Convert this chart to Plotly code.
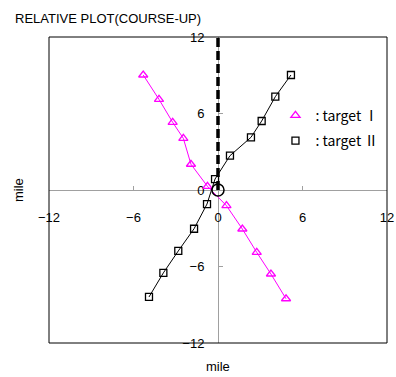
import plotly.graph_objects as go

# ---- data (mile) ----
target1_x = [-5.31, -4.19, -3.22, -2.46, -1.92, -0.75, 0.60, 1.73, 2.75, 3.76, 4.83]
target1_y = [9.02, 7.11, 5.31, 4.05, 2.02, 0.29, -1.23, -3.06, -4.89, -6.59, -8.53]
target2_x = [5.18, 4.07, 3.10, 2.34, 0.85, -0.21, -0.78, -1.70, -2.82, -3.88, -4.90]
target2_y = [9.02, 7.32, 5.41, 4.13, 2.69, 0.86, -1.10, -3.04, -4.78, -6.50, -8.39]
course_x = [0, 0]
course_y = [0, 12]
own_x = [0]
own_y = [0]
tick_vals = [-12, -6, 0, 6, 12]
tick_text = ["\u221212", "\u22126", "0", "6", "12"]
names = [": target \u2160", ": target \u2161"]

MAG = "#FF00FF"
FONT = "Liberation Sans, Arial, sans-serif"

W, H = 396, 377
ML, MR, MT, MB = 49, 9, 37, 34
PW, PH = W - ML - MR, H - MT - MB

fig = go.Figure()
fig.add_trace(go.Scatter(x=course_x, y=course_y, mode="lines",
                         line=dict(color="black", width=3.5, dash="9px,4px"),
                         showlegend=False, hoverinfo="skip"))
fig.add_trace(go.Scatter(x=target1_x, y=target1_y, mode="lines+markers",
                         line=dict(color=MAG, width=1),
                         marker=dict(symbol="triangle-up-open", size=8, color=MAG,
                                     line=dict(color=MAG, width=1.3)),
                         showlegend=False))
fig.add_trace(go.Scatter(x=target2_x, y=target2_y, mode="lines+markers",
                         line=dict(color="black", width=1),
                         marker=dict(symbol="square-open", size=7, color="black",
                                     line=dict(color="black", width=1.3)),
                         showlegend=False))
fig.add_trace(go.Scatter(x=own_x, y=own_y, mode="markers",
                         marker=dict(symbol="circle-open", size=12, color="black",
                                     line=dict(color="black", width=1.5)),
                         showlegend=False))
# legend entries
fig.add_trace(go.Scatter(x=[None], y=[None], mode="markers", name=names[0],
                         legendgroup="a",
                         marker=dict(symbol="triangle-up-open", size=8, color=MAG,
                                     line=dict(color=MAG, width=1.3))))
fig.add_trace(go.Scatter(x=[None], y=[None], mode="markers", name=names[1],
                         legendgroup="b",
                         marker=dict(symbol="square-open", size=7, color="black",
                                     line=dict(color="black", width=1.3))))

axis_common = dict(range=[-12, 12], tickvals=tick_vals, ticktext=tick_text,
                   showgrid=False, zeroline=False, showline=True, automargin=False,
                   linecolor="#A0A0A0", linewidth=1, ticks="inside", ticklen=4,
                   tickcolor="#A0A0A0", tickfont=dict(family=FONT, size=13, color="black"),
                   anchor="free", position=0.5, layer="below traces", fixedrange=True)

fig.update_layout(
    width=W, height=H,
    margin=dict(l=ML, r=MR, t=MT, b=MB),
    paper_bgcolor="white", plot_bgcolor="white",
    xaxis=dict(**axis_common, ticklabelstandoff=15),
    yaxis=dict(**axis_common, ticklabelstandoff=11),
    title=dict(text="RELATIVE PLOT(COURSE-UP)", font=dict(family=FONT, size=13, color="black"),
               xref="container", yref="container", x=15/W, y=1-18/H,
               xanchor="left", yanchor="middle"),
    legend=dict(x=0.67, y=0.795, xanchor="left", yanchor="top",
                bgcolor="rgba(0,0,0,0)", tracegroupgap=4,
                font=dict(family="Noto Sans CJK JP", size=14, color="black"),
                itemwidth=30),
    shapes=[dict(type="rect", xref="paper", yref="paper", x0=0, x1=1, y0=0, y1=1,
                 line=dict(color="black", width=1), layer="above")],
    annotations=[
        dict(text="mile", xref="paper", yref="paper", x=0.5, y=(MT + PH - 366) / PH,
             showarrow=False, font=dict(family=FONT, size=13, color="black"),
             xanchor="center", yanchor="middle"),
        dict(text="mile", xref="paper", yref="paper", x=(18 - ML) / PW, y=0.5,
             showarrow=False, textangle=-90, font=dict(family=FONT, size=13, color="black"),
             xanchor="center", yanchor="middle"),
    ],
)

fig.write_html("out.html")
